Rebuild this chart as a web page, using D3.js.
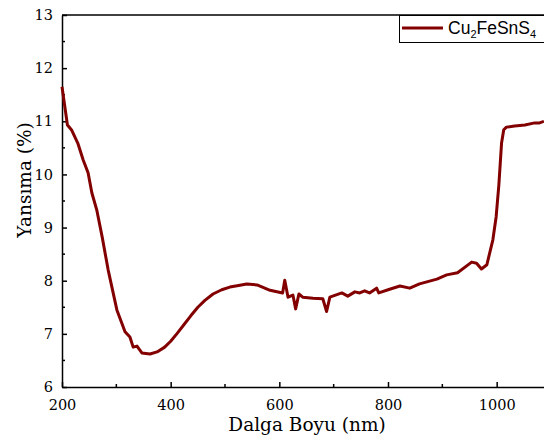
<!DOCTYPE html>
<meta charset="utf-8">
<style>
    body { margin: 0; background: #fff; }
    .axis path, .axis line { stroke: #000; stroke-width: 1.5px; }
</style>
<svg width="544" height="444"></svg>
<script src="https://cdn.jsdelivr.net/npm/d3@7/dist/d3.min.js"></script>
<script>
    // wavelength (nm) and reflectance (%)
    let wavelength = [200, 210, 218, 229, 239, 248, 255, 264, 274, 285, 301, 316, 325, 331, 338, 347, 362, 375, 389, 400,
        412, 425, 437, 450, 463, 478, 494, 509, 525, 540, 559, 583, 606, 610, 616, 625, 630, 636, 643, 662,
        680, 687, 693, 715, 726, 739, 748, 757, 766, 779, 783, 803, 822, 840, 858, 890, 908, 928, 954, 963,
        972, 982, 985, 993, 999, 1004, 1009, 1013, 1018, 1033, 1052, 1070, 1079, 1087];
    let reflectance = [11.65, 10.93, 10.83, 10.59, 10.27, 10.03, 9.65, 9.33, 8.82, 8.20, 7.45, 7.04, 6.94, 6.75, 6.77, 6.64, 6.62, 6.66, 6.75, 6.86,
        7.01, 7.18, 7.34, 7.50, 7.63, 7.75, 7.83, 7.88, 7.91, 7.94, 7.92, 7.82, 7.77, 8.01, 7.69, 7.73, 7.47, 7.75, 7.69, 7.67,
        7.66, 7.42, 7.69, 7.77, 7.71, 7.79, 7.77, 7.81, 7.77, 7.86, 7.77, 7.84, 7.90, 7.86, 7.94, 8.03, 8.11, 8.15, 8.35, 8.33,
        8.22, 8.30, 8.43, 8.77, 9.20, 9.80, 10.59, 10.84, 10.89, 10.91, 10.93, 10.97, 10.97, 11.00];
    let xTicks = [200, 400, 600, 800, 1000];
    let xMinor = [300, 500, 700, 900, 1100];
    let yTicks = [6, 7, 8, 9, 10, 11, 12, 13];
    let yMinor = [6.5, 7.5, 8.5, 9.5, 10.5, 11.5, 12.5];

    const serif = "'DejaVu Serif', serif";
    const sans = "'Liberation Sans', Arial, sans-serif";

    let svg = d3.select("svg");
    let mLeft = 62, mTop = 15, mRight = 551, mBottom = 387;

    let x = d3.scaleLinear().domain([200, 1100]).range([mLeft, mRight]);
    let y = d3.scaleLinear().domain([6, 13]).range([mBottom, mTop]);

    // frame
    svg.append("line").attr("x1", mLeft).attr("x2", mRight).attr("y1", mTop).attr("y2", mTop)
        .attr("stroke", "#000").attr("stroke-width", 1.5);
    svg.append("line").attr("x1", mRight).attr("x2", mRight).attr("y1", mTop).attr("y2", mBottom)
        .attr("stroke", "#000").attr("stroke-width", 1.5);

    let xAxis = svg.append("g").attr("class", "axis")
        .attr("transform", "translate(0," + mBottom + ")")
        .call(d3.axisBottom(x).tickValues(xTicks).tickFormat(d3.format("d"))
            .tickSizeInner(-5).tickSizeOuter(0).tickPadding(13));
    xAxis.selectAll(".minor").data(xMinor).enter().append("line")
        .attr("class", "minor").attr("x1", x).attr("x2", x).attr("y1", 0).attr("y2", -3);

    let yAxis = svg.append("g").attr("class", "axis")
        .attr("transform", "translate(" + mLeft + ",0)")
        .call(d3.axisLeft(y).tickValues(yTicks).tickFormat(d3.format("d"))
            .tickSizeInner(-5).tickSizeOuter(0).tickPadding(9));
    yAxis.selectAll(".minor").data(yMinor).enter().append("line")
        .attr("class", "minor").attr("y1", y).attr("y2", y).attr("x1", 0).attr("x2", 3);

    svg.selectAll(".axis").attr("font-family", serif).attr("font-size", 14.5);
    svg.selectAll(".axis text").attr("fill", "#000");

    let data = wavelength.map((w, i) => ({ w: w, r: reflectance[i] }));

    svg.append("path")
        .datum(data)
        .attr("fill", "none")
        .attr("stroke", "#830000")
        .attr("stroke-width", 3)
        .attr("stroke-linejoin", "round")
        .attr("d", d3.line().x(d => x(d.w)).y(d => y(d.r)));

    // titles
    svg.append("text")
        .attr("font-family", serif).attr("font-size", 18.5)
        .attr("x", 307).attr("y", 431).attr("text-anchor", "middle")
        .text("Dalga Boyu (nm)");
    svg.append("text")
        .attr("font-family", serif).attr("font-size", 18.5)
        .attr("transform", "translate(31,180) rotate(-90)")
        .attr("text-anchor", "middle")
        .text("Yansıma (%)");

    // legend
    let legend = svg.append("g");
    legend.append("rect").attr("x", 399.5).attr("y", 15.5).attr("width", 160).attr("height", 27)
        .attr("fill", "#fff").attr("stroke", "#000").attr("stroke-width", 1);
    legend.append("line").attr("x1", 402).attr("x2", 443).attr("y1", 28).attr("y2", 28)
        .attr("stroke", "#830000").attr("stroke-width", 3);
    let lt = legend.append("text").attr("x", 448).attr("y", 33.5)
        .attr("font-family", sans).attr("font-size", 17.5);
    lt.append("tspan").text("Cu");
    lt.append("tspan").attr("dy", 4).attr("font-size", 11).text("2");
    lt.append("tspan").attr("dy", -4).text("FeSnS");
    lt.append("tspan").attr("dy", 4).attr("font-size", 11).text("4");
</script>
